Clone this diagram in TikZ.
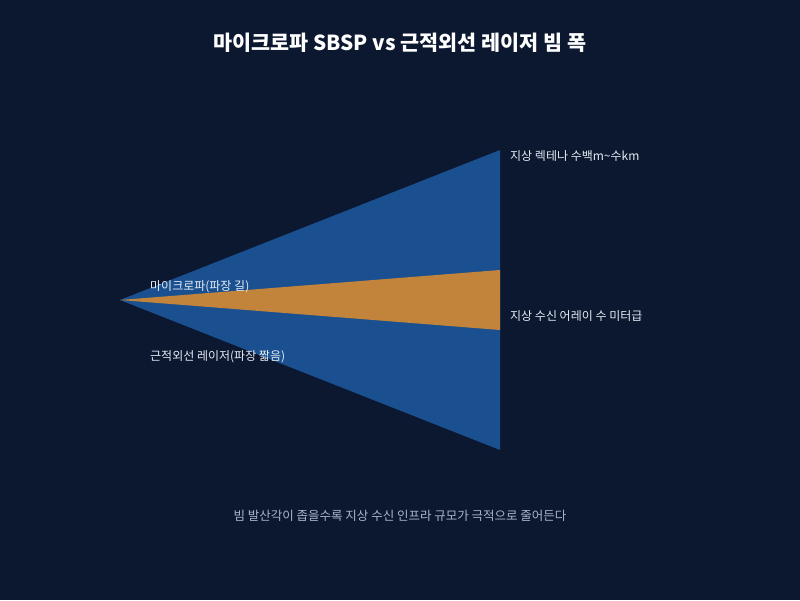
\documentclass[tikz,border=0pt]{standalone}
\usepackage{fontspec}
\setmainfont{Noto Sans CJK KR}
\definecolor{bgc}{HTML}{0C1730}
\definecolor{beamblue}{HTML}{1A5090}
\definecolor{beamorange}{HTML}{C2833A}
\definecolor{txtc}{HTML}{E6EDF5}
\definecolor{capc}{HTML}{A9B6C8}
\begin{document}
\begin{tikzpicture}[x=1pt,y=-1pt,
  lbl/.style={text=txtc,font=\fontsize{12}{14}\selectfont,inner sep=0pt,anchor=west},
  ttl/.style={text=white,font=\fontsize{20.7}{24}\bfseries\selectfont,inner sep=0pt},
  captext/.style={text=capc,font=\fontsize{12.5}{14}\selectfont,inner sep=0pt}]
\fill[bgc] (0,0) rectangle (800,600);
\useasboundingbox (0,0) rectangle (800,600);
\coordinate (apex) at (120,300);
\coordinate (bt) at (500,150);
\coordinate (bb) at (500,450);
\coordinate (ot) at (500,270);
\coordinate (ob) at (500,330);
\fill[beamblue] (apex) -- (bt) -- (bb) -- cycle;
\fill[beamorange] (apex) -- (ot) -- (ob) -- cycle;
\node[ttl] (title) at (400,43) {마이크로파 SBSP vs 근적외선 레이저 빔 폭};
\node[lbl] (mw) at (150,286.5) {마이크로파(파장 길)};
\node[lbl] (nir) at (150,356.5) {근적외선 레이저(파장 짧음)};
\node[lbl] (rect) at (510,156.5) {지상 렉테나 수백m\textasciitilde 수km};
\node[lbl] (arr) at (510,316.5) {지상 수신 어레이 수 미터급};
\node[captext] (caption) at (400,516) {빔 발산각이 좁을수록 지상 수신 인프라 규모가 극적으로 줄어든다};
\end{tikzpicture}
\end{document}
